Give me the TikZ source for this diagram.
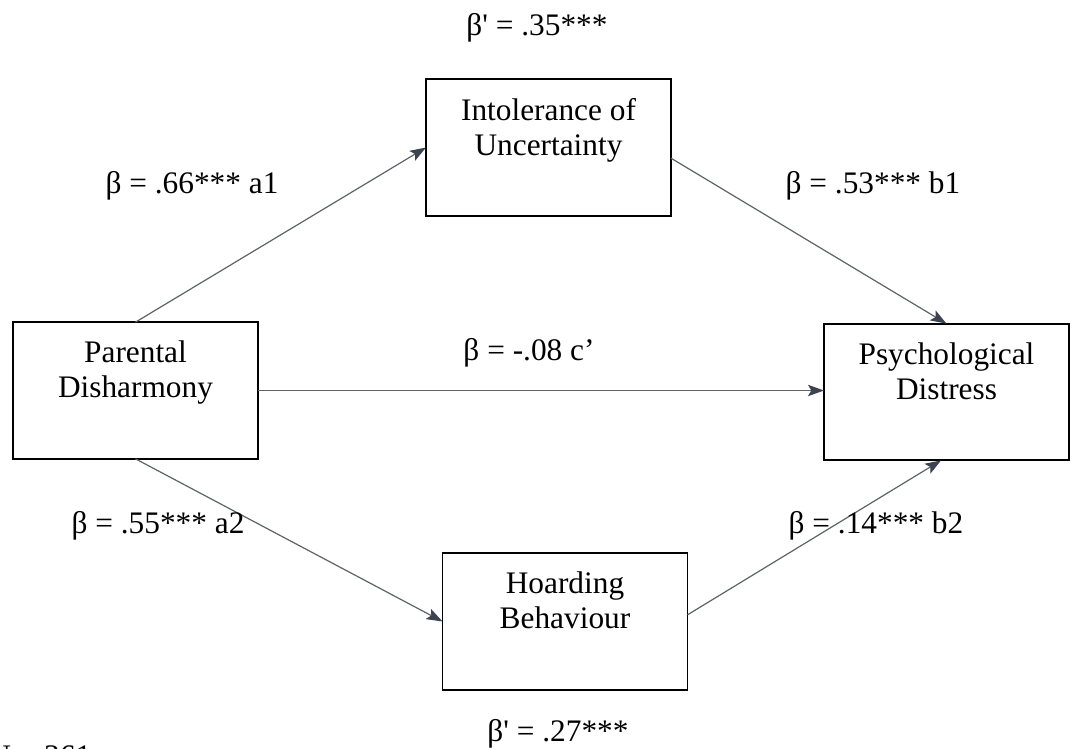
\documentclass[tikz,border=0pt]{standalone}
\usepackage{fontspec}
\setmainfont{Liberation Serif}
\usetikzlibrary{arrows.meta}
\definecolor{arrowgray}{HTML}{5F6368}
\definecolor{headcol}{HTML}{3B4350}
\begin{document}
\begin{tikzpicture}[x=0.75pt,y=-0.75pt,
  every node/.append style={font=\fontsize{23.5pt}{26.25pt}\selectfont},
  varbox/.style={draw=black, line width=1.4pt, rectangle, minimum width=183.75pt, minimum height=102.5pt, inner sep=0pt, outer sep=0pt},
  boxtext/.style={anchor=north, inner sep=0pt, align=center, yshift=-14pt},
  effect/.style={draw=arrowgray, line width=0.9pt, -{Stealth[length=12pt,width=8.5pt,inset=2.5pt,fill=headcol,color=headcol]}},
  coef/.style={anchor=base, inner sep=0pt}]
\fill[white] (0,0) rectangle (1070,749);
\useasboundingbox (0,0) rectangle (1070,749);
\clip (0,0) rectangle (1070,749);

\node[varbox, label={[boxtext]north:{Parental\\Disharmony}}] (pd) at (135.5,390.5) {};
\node[varbox, label={[boxtext]north:{Intolerance of\\Uncertainty}}] (iu) at (548.5,147.5) {};
\node[varbox, label={[boxtext]north:{Hoarding\\Behaviour}}] (hb) at (565,621.5) {};
\node[varbox, label={[boxtext]north:{Psychological\\Distress}}] (psd) at (946.5,392) {};

\draw[effect] (pd.north) -- (iu.west);
\draw[effect] ([yshift=-8pt]iu.east) -- (psd.north);
\draw[effect] (pd.east) -- (pd.east -| psd.west);
\draw[effect] (pd.south) -- (hb.west);
\draw[effect] ([yshift=5pt]hb.east) -- ([xshift=-4pt]psd.south);

\node[coef] (l35) at (537,36) {β\textquotesingle{} = .35***};
\node[coef] (la1) at (192,193) {β = .66*** a1};
\node[coef] (lb1) at (873,193) {β = .53*** b1};
\node[coef] (lc) at (529,360) {β = -.08 c’};
\node[coef] (la2) at (158,533) {β = .55*** a2};
\node[coef] (lb2) at (876,533) {β = .14*** b2};
\node[coef] (l27) at (558,741) {β\textquotesingle{} = .27***};
\node[coef, anchor=base west] (ln) at (-12,766) {N = 361};
\end{tikzpicture}
\end{document}
